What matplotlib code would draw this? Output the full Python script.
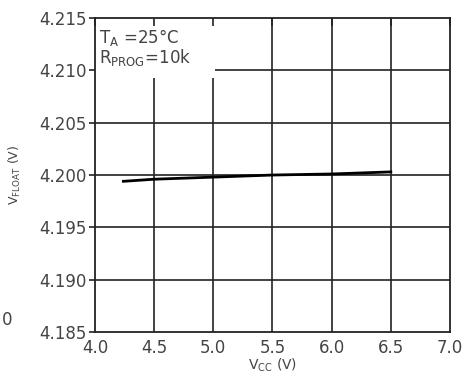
import matplotlib.pyplot as plt
from matplotlib.patches import Rectangle

# data
vcc = [4.24, 4.5, 5.0, 5.5, 6.0, 6.5]
vfloat = [4.1994, 4.1996, 4.1998, 4.2000, 4.2001, 4.2003]
x_ticks = [4.0, 4.5, 5.0, 5.5, 6.0, 6.5, 7.0]
y_ticks = [4.185, 4.190, 4.195, 4.200, 4.205, 4.210, 4.215]

plt.rcParams['mathtext.default'] = 'regular'
ink = '#222222'
txt = '#444444'

fig = plt.figure(figsize=(4.68, 3.76), dpi=100)
ax = fig.add_axes([0.203, 0.117, 0.7585, 0.835])

for x in x_ticks[1:-1]:
    ax.axvline(x, color=ink, lw=1.2, zorder=1)
for y in y_ticks[1:-1]:
    ax.axhline(y, color=ink, lw=1.2, zorder=1)

# white patch behind the condition text, hides the grid there
ax.add_patch(Rectangle((4.0, 4.2093), 1.01, 0.0057, facecolor='white',
                       edgecolor='none', zorder=1.5))

ax.plot(vcc, vfloat, color='black', lw=2.0, zorder=3)

ax.set_xlim(4.0, 7.0)
ax.set_ylim(4.185, 4.215)
ax.set_xticks(x_ticks)
ax.set_yticks(y_ticks)
ax.set_xticklabels(['%.1f' % v for v in x_ticks])
ax.set_yticklabels(['%.3f' % v for v in y_ticks])
ax.tick_params(axis='both', labelsize=12, colors=ink, labelcolor=txt)
ax.tick_params(axis='x', top=True, bottom=False, direction='in', length=6,
               width=1.2, pad=5)
ax.tick_params(axis='y', direction='out', length=4, width=1.2, pad=2)
for s in ax.spines.values():
    s.set_color(ink)
    s.set_linewidth(1.3)

ax.text(4.03, 4.2122, 'T$_A$ =25°C\nR$_{PROG}$=10k', fontsize=12, color=txt,
        va='center', ha='left', linespacing=0.95, zorder=2)

ax.set_xlabel('V$_{CC}$ (V)', fontsize=10, color=txt, labelpad=0)
ax.set_ylabel('V$_{FLOAT}$ (V)', fontsize=9, color=txt, labelpad=12)

fig.text(0.005, 0.135, '0', fontsize=12, color=txt)

fig.savefig('out.png', dpi=100)
